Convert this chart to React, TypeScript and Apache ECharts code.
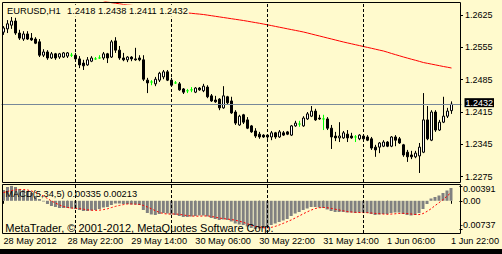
import React, { useEffect, useRef } from 'react';
import * as echarts from 'echarts';

const FONT = "'Liberation Sans', Arial, Helvetica, sans-serif";
const BG = '#FFFACD';

// H1 bars from 28 May 2012 06:00 to 1 Jun 2012 22:00 (113 bars) + 2 empty slots
const SLOT_COUNT = 115;
const pad = (n: number) => (n < 10 ? '0' + n : '' + n);
const categories: string[] = [];
for (let i = 0; i < SLOT_COUNT; i++) {
  const h = 6 + i;
  let day = 28 + Math.floor(h / 24);
  let month = 5;
  if (day > 31) { day -= 31; month = 6; }
  categories.push(`2012.${pad(month)}.${pad(day)} ${pad(h % 24)}:00`);
}

const timeLabels = ['28 May 2012', '28 May 22:00', '29 May 14:00', '30 May 06:00', '30 May 22:00', '31 May 14:00', '1 Jun 06:00', '1 Jun 22:00'];
const LABEL_STEP = 16;

const opens = [
  1.2588, 1.2595, 1.2603, 1.2612, 1.2586, 1.2573, 1.2584, 1.2575, 1.2573, 1.2567,
  1.2538, 1.2545, 1.2532, 1.2541, 1.2534, 1.2534, 1.2536, 1.2538, 1.2538, 1.2530,
  1.2521, 1.2517, 1.2525, 1.2530, 1.2532, 1.2532, 1.2541, 1.2534, 1.2569, 1.2549,
  1.2532, 1.2528, 1.2534, 1.2530, 1.2532, 1.2528, 1.2484, 1.2480, 1.2476, 1.2484,
  1.2491, 1.2502, 1.2484, 1.2478, 1.2476, 1.2465, 1.2461, 1.2463, 1.2458, 1.2467,
  1.2461, 1.2469, 1.2450, 1.2441, 1.2443, 1.2424, 1.2448, 1.2439, 1.2415, 1.2387,
  1.2409, 1.2398, 1.2385, 1.2374, 1.2367, 1.2365, 1.2365, 1.2361, 1.2370, 1.2361,
  1.2370, 1.2372, 1.2365, 1.2385, 1.2389, 1.2385, 1.2400, 1.2406, 1.2417, 1.2402,
  1.2400, 1.2400, 1.2380, 1.2363, 1.2359, 1.2359, 1.2367, 1.2363, 1.2361, 1.2357,
  1.2363, 1.2361, 1.2357, 1.2339, 1.2339, 1.2341, 1.2350, 1.2341, 1.2361, 1.2357,
  1.2344, 1.2328, 1.2322, 1.2318, 1.2320, 1.2328, 1.2398, 1.2354, 1.2415, 1.2376,
  1.2393, 1.2406, 1.2418,
];
const highs = [
  1.2601, 1.2614, 1.2621, 1.2619, 1.2593, 1.2590, 1.2590, 1.2586, 1.2577, 1.2573,
  1.2551, 1.2549, 1.2545, 1.2543, 1.2543, 1.2545, 1.2545, 1.2543, 1.2543, 1.2536,
  1.2528, 1.2534, 1.2536, 1.2534, 1.2538, 1.2545, 1.2543, 1.2571, 1.2577, 1.2558,
  1.2543, 1.2536, 1.2536, 1.2554, 1.2538, 1.2538, 1.2489, 1.2484, 1.2491, 1.2502,
  1.2506, 1.2506, 1.2489, 1.2482, 1.2480, 1.2467, 1.2465, 1.2469, 1.2469, 1.2469,
  1.2476, 1.2473, 1.2454, 1.2450, 1.2445, 1.2471, 1.2450, 1.2448, 1.2419, 1.2409,
  1.2411, 1.2404, 1.2387, 1.2380, 1.2372, 1.2367, 1.2367, 1.2374, 1.2372, 1.2376,
  1.2374, 1.2374, 1.2387, 1.2396, 1.2396, 1.2406, 1.2415, 1.2428, 1.2422, 1.2409,
  1.2409, 1.2404, 1.2387, 1.2372, 1.2393, 1.2374, 1.2376, 1.2370, 1.2365, 1.2367,
  1.2365, 1.2365, 1.2361, 1.2344, 1.2350, 1.2354, 1.2352, 1.2363, 1.2365, 1.2361,
  1.2346, 1.2333, 1.2331, 1.2331, 1.2348, 1.2456, 1.2428, 1.2419, 1.2419, 1.2398,
  1.2448, 1.2424, 1.2438,
];
const lows = [
  1.2582, 1.2586, 1.2595, 1.2582, 1.2571, 1.2569, 1.2571, 1.2569, 1.2562, 1.2534,
  1.2534, 1.2528, 1.2530, 1.2528, 1.2530, 1.2532, 1.2532, 1.2534, 1.2525, 1.2510,
  1.2506, 1.2515, 1.2523, 1.2528, 1.2530, 1.2528, 1.2521, 1.2532, 1.2543, 1.2528,
  1.2525, 1.2523, 1.2525, 1.2526, 1.2525, 1.2482, 1.2456, 1.2473, 1.2471, 1.2480,
  1.2486, 1.2482, 1.2471, 1.2476, 1.2461, 1.2454, 1.2456, 1.2458, 1.2456, 1.2461,
  1.2458, 1.2445, 1.2437, 1.2435, 1.2419, 1.2422, 1.2432, 1.2411, 1.2387, 1.2385,
  1.2389, 1.2378, 1.2370, 1.2359, 1.2357, 1.2359, 1.2357, 1.2354, 1.2357, 1.2359,
  1.2363, 1.2365, 1.2363, 1.2383, 1.2383, 1.2383, 1.2398, 1.2404, 1.2396, 1.2398,
  1.2376, 1.2376, 1.2335, 1.2352, 1.2350, 1.2357, 1.2350, 1.2357, 1.2350, 1.2354,
  1.2354, 1.2352, 1.2333, 1.2318, 1.2326, 1.2339, 1.2339, 1.2339, 1.2341, 1.2346,
  1.2318, 1.2307, 1.2313, 1.2315, 1.2283, 1.2326, 1.2354, 1.2352, 1.2372, 1.2374,
  1.2391, 1.2402, 1.2411,
];
const closes = [
  1.2597, 1.2606, 1.2612, 1.2586, 1.2575, 1.2584, 1.2573, 1.2571, 1.2564, 1.2538,
  1.2545, 1.2532, 1.2541, 1.2532, 1.2541, 1.2543, 1.2543, 1.2538, 1.2530, 1.2517,
  1.2515, 1.2528, 1.2532, 1.2530, 1.2532, 1.2541, 1.2532, 1.2567, 1.2549, 1.2532,
  1.2528, 1.2534, 1.2530, 1.2528, 1.2528, 1.2486, 1.2478, 1.2480, 1.2486, 1.2499,
  1.2502, 1.2484, 1.2473, 1.2478, 1.2463, 1.2458, 1.2461, 1.2463, 1.2467, 1.2463,
  1.2471, 1.2448, 1.2439, 1.2437, 1.2424, 1.2450, 1.2435, 1.2413, 1.2391, 1.2406,
  1.2393, 1.2380, 1.2372, 1.2363, 1.2361, 1.2361, 1.2361, 1.2370, 1.2361, 1.2372,
  1.2365, 1.2367, 1.2385, 1.2391, 1.2389, 1.2402, 1.2411, 1.2417, 1.2398, 1.2400,
  1.2400, 1.2380, 1.2361, 1.2359, 1.2363, 1.2370, 1.2359, 1.2359, 1.2361, 1.2365,
  1.2357, 1.2354, 1.2337, 1.2333, 1.2348, 1.2350, 1.2341, 1.2361, 1.2354, 1.2348,
  1.2322, 1.2318, 1.2318, 1.2326, 1.2339, 1.2398, 1.2357, 1.2415, 1.2376, 1.2393,
  1.2406, 1.2417, 1.2432,
];

// Moving average (red), visible from bar 25 onward
const MA_START = 25;
const maValues = [
  1.26553, 1.26534, 1.26517, 1.26506, 1.26493, 1.26478, 1.26469, 1.26460, 1.26452, 1.26443,
  1.26434, 1.26423, 1.26413, 1.26402, 1.26391, 1.26380, 1.26365, 1.26350, 1.26335, 1.26320,
  1.26304, 1.26296, 1.26287, 1.26278, 1.26270, 1.26261, 1.26248, 1.26235, 1.26222, 1.26209,
  1.26196, 1.26183, 1.26170, 1.26157, 1.26144, 1.26131, 1.26116, 1.26101, 1.26086, 1.26071,
  1.26055, 1.26038, 1.26021, 1.26003, 1.25986, 1.25969, 1.25951, 1.25934, 1.25917, 1.25900,
  1.25882, 1.25861, 1.25839, 1.25817, 1.25796, 1.25774, 1.25752, 1.25731, 1.25709, 1.25687,
  1.25666, 1.25646, 1.25627, 1.25607, 1.25588, 1.25568, 1.25549, 1.25530, 1.25510, 1.25490,
  1.25471, 1.25445, 1.25418, 1.25392, 1.25367, 1.25341, 1.25317, 1.25293, 1.25270, 1.25246,
  1.25221, 1.25204, 1.25187, 1.25170, 1.25153, 1.25135, 1.25120, 1.25103,
];

// MACD(5,34,5)
const macdMain = [
  0.00283, 0.00362, 0.00391, 0.00362, 0.0031, 0.00283, 0.00257, 0.00205, 0.00126, 0.00047,
  -0.00018, -0.00084, -0.00136, -0.00162, -0.00189, -0.00189, -0.00189, -0.00202, -0.00215, -0.00241,
  -0.00267, -0.00267, -0.00254, -0.00241, -0.00215, -0.00176, -0.00162, -0.0011, -0.00071, -0.00071,
  -0.00084, -0.00084, -0.00097, -0.00097, -0.0011, -0.00241, -0.0032, -0.00359, -0.00372, -0.00346,
  -0.0032, -0.00333, -0.00359, -0.00372, -0.00398, -0.00424, -0.00424, -0.00411, -0.00398, -0.00385,
  -0.00385, -0.0041, -0.00451, -0.00477, -0.00503, -0.0049, -0.00503, -0.00542, -0.00595, -0.00621,
  -0.00634, -0.00673, -0.00713, -0.00737, -0.00726, -0.00713, -0.00686, -0.00634, -0.00595, -0.00555,
  -0.00516, -0.00477, -0.00398, -0.00333, -0.00293, -0.00241, -0.00202, -0.00162, -0.00162, -0.00176,
  -0.00189, -0.00228, -0.00267, -0.00293, -0.00293, -0.00293, -0.00307, -0.00307, -0.0032, -0.00307,
  -0.00307, -0.0032, -0.00346, -0.00372, -0.00359, -0.00346, -0.00346, -0.0032, -0.00307, -0.00307,
  -0.00346, -0.00372, -0.00385, -0.00372, -0.0032, -0.00215, -0.00084, 0.0006, 0.001, 0.00139,
  0.00204, 0.0027, 0.00335,
];
const macdSignal = [
  0.00217, 0.00244, 0.0027, 0.00283, 0.00296, 0.00296, 0.00283, 0.00257, 0.00217, 0.00178,
  0.00126, 0.0006, -0.00005, -0.00058, -0.0011, -0.00149, -0.00176, -0.00189, -0.00197, -0.00204,
  -0.0022, -0.00236, -0.00246, -0.00252, -0.00246, -0.00231, -0.0021, -0.00178, -0.00147, -0.00121,
  -0.001, -0.00084, -0.00084, -0.00089, -0.00094, -0.00121, -0.00162, -0.0021, -0.00259, -0.00304,
  -0.00335, -0.00346, -0.00346, -0.00346, -0.00354, -0.00372, -0.00388, -0.00398, -0.00403, -0.00403,
  -0.00398, -0.00396, -0.00408, -0.0043, -0.00452, -0.00466, -0.00478, -0.0049, -0.00508, -0.00535,
  -0.00561, -0.00603, -0.00637, -0.00671, -0.00689, -0.00707, -0.0071, -0.00697, -0.00671, -0.00634,
  -0.00592, -0.00548, -0.00503, -0.00451, -0.00398, -0.00343, -0.00291, -0.00244, -0.00204, -0.00181,
  -0.00176, -0.00181, -0.00199, -0.0022, -0.00241, -0.00262, -0.00283, -0.00293, -0.00301, -0.00307,
  -0.00309, -0.00312, -0.0032, -0.0033, -0.00338, -0.00346, -0.00354, -0.00348, -0.00341, -0.0033,
  -0.0033, -0.00335, -0.00346, -0.00359, -0.00362, -0.00335, -0.00278, -0.0021, -0.00128, -0.0005,
  0.00029, 0.00121, 0.00213,
];

const priceTicks = [1.2275, 1.2345, 1.2415, 1.2485, 1.2555, 1.2625];
const macdTicks = [0.00391, 0, -0.00737];
const PRICE_MIN = 1.22635;
const PRICE_MAX = 1.26532;
const MACD_MIN = -0.00844;
const MACD_MAX = 0.0044;

export default function App() {
  const ref = useRef<HTMLDivElement>(null);

  useEffect(() => {
    if (!ref.current) return;
    const chart = echarts.init(ref.current, null, { renderer: 'svg' });
    const last = opens.length - 1;
    const candles = opens.map((o, i) => [o, closes[i], lows[i], highs[i]]);
    const maData = categories.map((_, i) =>
      i >= MA_START && i - MA_START < maValues.length ? maValues[i - MA_START] : null
    );
    const midnights = categories.filter((c, i) => i > 0 && i <= last && c.endsWith(' 00:00'));
    const dashLines = midnights.map((c) => ({
      xAxis: c,
      lineStyle: { type: [3, 2], color: '#000', width: 1 },
      label: { show: false },
    }));
    const labelInterval = (index: number) => index % LABEL_STEP === 0 && index <= last;
    const headerQuote = [opens[last], highs[last], lows[last], closes[last]].map((v) => v.toFixed(4)).join(' ');
    const macdText = `MACD(5,34,5) ${macdMain[last].toFixed(5)} ${macdSignal[last].toFixed(5)}`;

    const option: any = {
      animation: false,
      backgroundColor: BG,
      textStyle: { fontFamily: FONT },
      grid: [
        { left: 1.5, top: 2, width: 460, height: 180 },
        { left: 1.5, top: 184, width: 460, height: 49 },
      ],
      xAxis: [
        {
          type: 'category', gridIndex: 0, data: categories, boundaryGap: true,
          axisLine: { show: false }, axisTick: { show: false }, axisLabel: { show: false }, splitLine: { show: false },
        },
        {
          type: 'category', gridIndex: 1, data: categories, boundaryGap: true,
          axisLine: { show: false },
          axisTick: { show: true, interval: labelInterval, alignWithLabel: true, length: 3, lineStyle: { color: '#000' } },
          axisLabel: {
            show: true, interval: labelInterval,
            formatter: (_v: string, idx: number) => timeLabels[Math.round(idx / LABEL_STEP)] || '',
            color: '#000', fontSize: 9.2, fontFamily: FONT, align: 'left', margin: 3,
          },
          splitLine: { show: false },
        },
      ],
      yAxis: [
        {
          type: 'value', gridIndex: 0, position: 'right', offset: -1.5, min: PRICE_MIN, max: PRICE_MAX,
          axisLine: { show: false }, splitLine: { show: false },
          axisTick: { show: true, length: 3, customValues: priceTicks, lineStyle: { color: '#000' } },
          axisLabel: {
            customValues: priceTicks, formatter: (v: number) => v.toFixed(4),
            color: '#000', fontSize: 9, fontFamily: FONT, margin: 5,
          },
        },
        {
          type: 'value', gridIndex: 1, position: 'right', offset: -1.5, min: MACD_MIN, max: MACD_MAX,
          axisLine: { show: false }, splitLine: { show: false },
          axisTick: { show: true, length: 3, customValues: macdTicks, lineStyle: { color: '#000' } },
          axisLabel: {
            customValues: macdTicks,
            formatter: (v: number) => {
              if (v > 0) return '{t|' + v.toFixed(5) + '}';
              if (v < 0) return '{b|' + v.toFixed(5) + '}';
              return '{z|0.00}';
            },
            color: '#000', fontSize: 9, fontFamily: FONT, margin: 0.5,
            rich: {
              t: { padding: [6, 0, 0, 3], fontSize: 9, fontFamily: FONT, color: '#000' },
              z: { padding: [0, 0, 0, 3], fontSize: 9, fontFamily: FONT, color: '#000' },
              b: { padding: [0, 0, 7, 0], fontSize: 9, fontFamily: FONT, color: '#000' },
            },
          },
        },
      ],
      series: [
        {
          type: 'candlestick', xAxisIndex: 0, yAxisIndex: 0, data: candles, barWidth: 2,
          itemStyle: {
            color: '#FFFFFF', color0: '#000000', borderColor: '#000000', borderColor0: '#000000',
            borderColorDoji: '#00FF00', borderWidth: 1,
          },
          markLine: {
            silent: true, symbol: ['none', 'none'], animation: false, precision: 5,
            data: [
              ...dashLines,
              {
                yAxis: closes[last],
                lineStyle: { type: 'solid', color: '#778899', width: 1 },
                label: {
                  show: true, position: 'end', formatter: () => closes[last].toFixed(4),
                  color: '#FFFFFF', backgroundColor: '#000000', padding: [1, 1, 0, 1],
                  fontSize: 9, fontFamily: FONT, lineHeight: 8, distance: 3, offset: [0, -1.5],
                },
              },
            ],
          },
        },
        {
          type: 'line', xAxisIndex: 0, yAxisIndex: 0, data: maData, symbol: 'none', showSymbol: false,
          lineStyle: { color: '#FF0000', width: 1 }, z: 3,
        },
        {
          type: 'bar', xAxisIndex: 1, yAxisIndex: 1, data: macdMain, barWidth: 3,
          itemStyle: { color: '#808080' },
          markLine: { silent: true, symbol: ['none', 'none'], animation: false, data: dashLines },
        },
        {
          type: 'line', xAxisIndex: 1, yAxisIndex: 1, data: macdSignal, symbol: 'none', showSymbol: false,
          lineStyle: { color: '#FF0000', width: 1, type: [2, 2] }, z: 3,
        },
      ],
      graphic: [
        { type: 'rect', z: 100, silent: true, shape: { x: 2.5, y: 2.5, width: 458, height: 180 }, style: { fill: 'none', stroke: '#000', lineWidth: 1 } },
        { type: 'rect', z: 100, silent: true, shape: { x: 2.5, y: 184.5, width: 458, height: 49 }, style: { fill: 'none', stroke: '#000', lineWidth: 1 } },
        { type: 'rect', z: 100, silent: true, shape: { x: 0, y: 249, width: 502, height: 5 }, style: { fill: '#000' } },
        {
          type: 'text', z: 100, x: 6, y: 10.7, silent: true,
          style: { text: 'EURUSD,H1', fill: '#000', fontSize: 9.3, fontFamily: FONT, verticalAlign: 'middle', backgroundColor: BG, padding: [2, 1, 1, 1] },
        },
        {
          type: 'text', z: 100, x: 66, y: 10.7, silent: true,
          style: { text: headerQuote, fill: '#000', fontSize: 9.3, fontFamily: FONT, verticalAlign: 'middle', backgroundColor: BG, padding: [2, 1, 1, 1] },
        },
        {
          type: 'text', z: 100, x: 5.3, y: 193.7, silent: true,
          style: { text: macdText, fill: '#000', fontSize: 9.3, fontFamily: FONT, verticalAlign: 'middle' },
        },
        {
          type: 'text', z: 100, x: 5.3, y: 228.3, silent: true,
          style: { text: 'MetaTrader, © 2001-2012, MetaQuotes Software Corp.', fill: '#000', fontSize: 11, fontFamily: FONT, verticalAlign: 'middle' },
        },
      ],
    };
    chart.setOption(option);
    return () => chart.dispose();
  }, []);

  return (
    <div
      ref={ref}
      style={{ position: 'absolute', left: 0, top: 0, width: 502, height: 254, background: BG }}
    />
  );
}
